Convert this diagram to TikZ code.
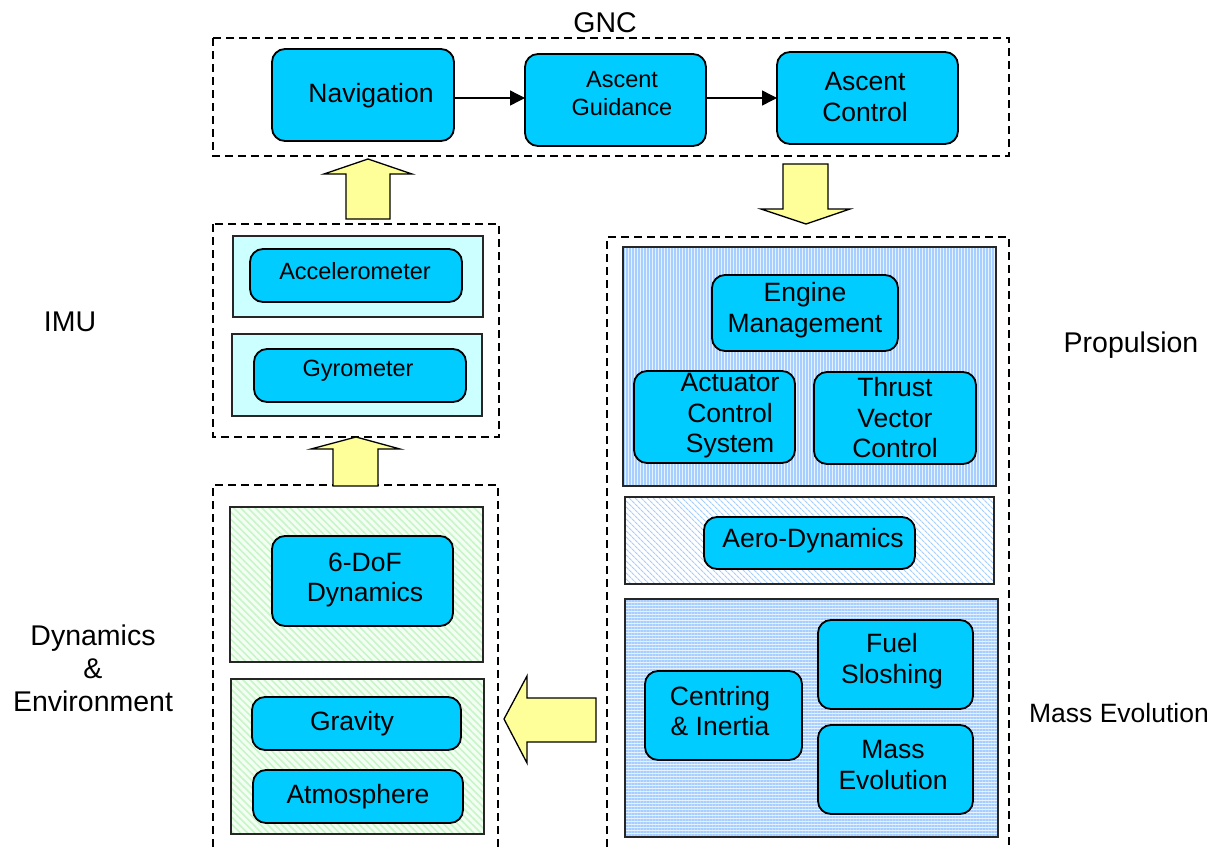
\documentclass[tikz,border=0pt]{standalone}
\usepackage{fontspec}
\setmainfont{Liberation Sans}
\usetikzlibrary{arrows.meta,patterns.meta}

\definecolor{modcyan}{HTML}{00CCFF}
\definecolor{panelcyan}{HTML}{CCFFFF}
\definecolor{blockyellow}{HTML}{FFFF99}
\definecolor{stripeblue}{HTML}{A6CEFF}
\definecolor{paleblue}{HTML}{E6F2FF}
\definecolor{stripegreen}{HTML}{C8F5C8}
\definecolor{palegreen}{HTML}{F4FFF4}

% rounded module box spanning (x1,y1)-(x2,y2)
\newcommand\modbox[5]{%
  \node[modb, minimum width={#4-#2}, minimum height={#5-#3}] (#1)
    at ({(#2+#4)/2},{(#3+#5)/2}) {};}

\begin{document}
\begin{tikzpicture}[x=1pt,y=-1pt,
  modb/.style={draw=black, line width=1.8pt, fill=modcyan,
    rounded corners=13pt, inner sep=0pt, outer sep=0pt},
  txt/.style={align=center, inner sep=0pt, font=\fontsize{26.5}{30.5}\selectfont},
  smalltxt/.style={align=center, inner sep=0pt, font=\fontsize{23.5}{28}\selectfont},
  lbl/.style={align=center, inner sep=0pt, font=\fontsize{28.5}{33}\selectfont},
  grp/.style={draw=black, line width=1.6pt, dash pattern=on 8pt off 5pt},
  panel/.style={draw=black!85, line width=1.8pt},
  yarrow/.style={draw=black, line width=1.3pt, fill=blockyellow, line join=miter},
  conn/.style={draw=black, line width=1.4pt, -{Triangle[length=15pt,width=15pt]}},
]
\useasboundingbox (0,0) rectangle (1219,847);
\fill[white] (0,0) rectangle (1219,847);

% ---------- group frames ----------
\draw[grp] (213,38) rectangle (1009,156);
\draw[grp] (213,224) rectangle (499,437);
\draw[grp] (213,860) |- (498,485) -- (498,860);
\draw[grp] (607,860) |- (1009,237) -- (1009,860);

% ---------- IMU panels ----------
\draw[panel, fill=panelcyan] (233,236) rectangle (483,317);
\draw[panel, fill=panelcyan] (232,334) rectangle (482,416);

% ---------- dynamics panels (green hatch) ----------
\foreach \a/\b/\c/\d in {230/507/483/662, 231/679/484/834}{
  \fill[palegreen] (\a,\b) rectangle (\c,\d);
  \fill[pattern={Lines[angle=-45,distance=5pt,line width=1.6pt]},
        pattern color=stripegreen] (\a,\b) rectangle (\c,\d);
  \draw[panel] (\a,\b) rectangle (\c,\d);
}

% ---------- propulsion panels (blue hatch) ----------
\fill[paleblue] (623,247) rectangle (996,486);
\fill[pattern={Lines[angle=90,distance=3pt,line width=1.3pt]},
      pattern color=stripeblue] (623,247) rectangle (996,486);
\draw[panel] (623,247) rectangle (996,486);

\fill[white] (625,497) rectangle (994,584);
\fill[pattern={Lines[angle=-45,distance=4pt,line width=1.1pt]},
      pattern color=stripeblue] (625,497) rectangle (994,584);
\draw[panel] (625,497) rectangle (994,584);

\fill[paleblue] (625,599) rectangle (998,837);
\fill[pattern={Lines[angle=0,distance=3pt,line width=1.3pt]},
      pattern color=stripeblue] (625,599) rectangle (998,837);
\draw[panel] (625,599) rectangle (998,837);

% ---------- modules ----------
\modbox{nav}{272}{49}{454}{141}
\modbox{guid}{525}{54}{706}{146}
\modbox{ctrl}{777}{52}{958}{144}
\modbox{acc}{250}{249}{462}{302}
\modbox{gyro}{254}{349}{466}{402}
\modbox{dof}{272}{536}{453}{626}
\modbox{grav}{252}{697}{461}{750}
\modbox{atmo}{253}{770}{463}{823}
\modbox{eng}{712}{275}{898}{351}
\modbox{act}{634}{371}{795}{463}
\modbox{tvc}{814}{372}{976}{464}
\modbox{aero}{704}{517}{915}{569}
\modbox{fuel}{818}{620}{973}{709}
\modbox{cent}{645}{671}{802}{760}
\modbox{mass}{818}{725}{973}{814}

% ---------- module texts ----------
\node[txt] (navT) at (371,96) {Navigation};
\node[smalltxt] (guidT) at (622,94) {Ascent\\Guidance};
\node[txt] (ctrlT) at (865,97) {Ascent\\Control};
\node[smalltxt] (accT) at (355,271) {Accelerometer};
\node[smalltxt] (gyroT) at (358,371) {Gyrometer};
\node[txt] (dofT) at (365,580) {6-DoF\\Dynamics};
\node[txt] (gravT) at (352,724) {Gravity};
\node[txt] (atmoT) at (358,797) {Atmosphere};
\node[txt] (engT) at (805,310) {Engine\\Management};
\node[txt] (actT) at (730,416) {Actuator\\Control\\System};
\node[txt] (tvcT) at (895,418) {Thrust\\Vector\\Control};
\node[txt] (aeroT) at (813,541) {Aero-Dynamics};
\node[txt] (fuelT) at (892,661) {Fuel\\Sloshing};
\node[txt] (centT) at (720,711) {Centring\\\& Inertia};
\node[txt] (massT) at (893,765) {Mass\\Evolution};

% ---------- GNC chain ----------
\draw[conn] ([yshift=-3pt]nav.east) -- ([yshift=-3pt]nav.east -| guid.west);
\draw[conn] (guid.east |- ctrl.west) -- (ctrl.west);

% ---------- block arrows between groups ----------
\draw[yarrow] (368,159) -- (412,174) -- (390,174) -- (390,219)
  -- (346,219) -- (346,174) -- (324,174) -- cycle;
\draw[yarrow] (356,437) -- (400,449) -- (378,449) -- (378,486)
  -- (333,486) -- (333,449) -- (311,449) -- cycle;
\draw[yarrow] (806,224) -- (850,209) -- (828,209) -- (828,164)
  -- (783,164) -- (783,209) -- (761,209) -- cycle;
\draw[yarrow] (504,719) -- (527,676) -- (527,698) -- (596,698)
  -- (596,742) -- (527,742) -- (527,763) -- cycle;

% ---------- group labels ----------
\node[lbl] (gncL) at (605,23) {GNC};
\node[lbl] (imuL) at (70,322) {IMU};
\node[lbl] (dynL) at (93,668) {Dynamics\\\&\\Environment};
\node[lbl] (propL) at (1131,345) {Propulsion};
\node[txt] (massL) at (1119,713) {Mass Evolution};
\end{tikzpicture}
\end{document}
